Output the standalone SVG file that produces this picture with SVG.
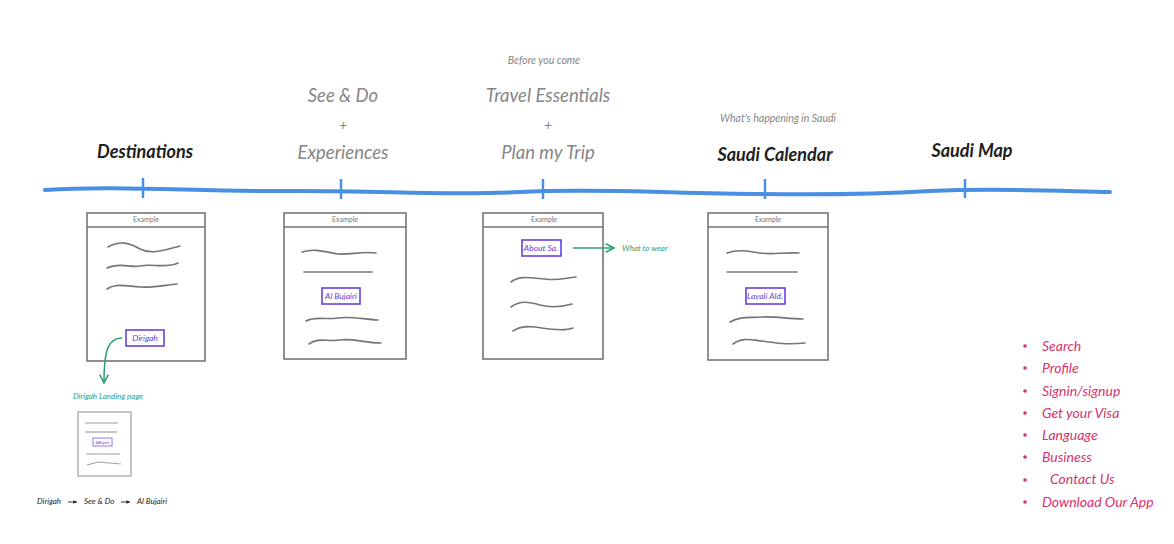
<svg xmlns="http://www.w3.org/2000/svg" width="1174" height="544" viewBox="0 0 1174 544">
<defs>
<style>
text{font-family:"Lato","Open Sans",sans-serif;font-style:italic}
.t{text-anchor:middle}
.blk{fill:#1e1e1e;font-size:18px;font-weight:bold}
.gry{fill:#868686;font-size:18.5px}
.sub{fill:#868686;font-size:10.5px}
.frame{fill:none;stroke:#757575;stroke-width:1.6}
.sq{fill:none;stroke:#757575;stroke-width:1.6;stroke-linecap:round}
.btn{fill:#fff;stroke:#6741d9;stroke-width:1.6}
.btxt{fill:#6741d9;font-size:8.5px;text-anchor:middle}
.ex{fill:#757575;font-size:7px;text-anchor:middle;font-style:normal}
.grn{fill:none;stroke:#2f9e78;stroke-width:1.5}
.gtxt{fill:#2f9e78;font-size:8px}
.pink{fill:#d6336c;font-size:14px}
.bul{fill:#d6336c}
.bc{fill:#1e1e1e;font-size:8px}
</style>
<marker id="ga" viewBox="0 0 10 10" refX="9" refY="5" markerWidth="7" markerHeight="7" orient="auto"><path d="M1 1 L9 5 L1 9" fill="none" stroke="#2f9e78" stroke-width="1.5"/></marker>
<marker id="ka" viewBox="0 0 10 10" refX="9" refY="5" markerWidth="5" markerHeight="5" orient="auto"><path d="M1 1 L9 5 L1 9 Z" fill="#1e1e1e"/></marker>
</defs>

<g id="timeline">
<path d="M45 190 C120 185 200 192 280 191 C380 190 440 196 520 192 C600 188 680 194 760 194 C830 195 880 194 930 191 C1000 188 1060 191 1110 192" fill="none" stroke="#4a90e2" stroke-width="4" stroke-linecap="round"/>
<g stroke="#4a90e2" stroke-width="2.5">
<line x1="143" y1="178" x2="143" y2="198"/>
<line x1="341" y1="179" x2="341" y2="199"/>
<line x1="543" y1="179" x2="543" y2="199"/>
<line x1="765" y1="179" x2="765" y2="199"/>
<line x1="965" y1="179" x2="965" y2="198"/>
</g>
</g>

<g id="headings">
<text class="t blk" x="145" y="158">Destinations</text>
<text class="t gry" x="343" y="102">See &amp; Do</text>
<text class="t gry" x="343" y="130" style="font-size:14px">+</text>
<text class="t gry" x="343" y="159">Experiences</text>
<text class="t sub" x="544" y="64">Before you come</text>
<text class="t gry" x="548" y="102">Travel Essentials</text>
<text class="t gry" x="548" y="130" style="font-size:14px">+</text>
<text class="t gry" x="548" y="159">Plan my Trip</text>
<text class="t sub" x="778" y="122">What's happening in Saudi</text>
<text class="t blk" x="775" y="161">Saudi Calendar</text>
<text class="t blk" x="972" y="157">Saudi Map</text>
</g>

<g id="wf-destinations">
<rect class="frame" x="87" y="213" width="118" height="148"/>
<line class="frame" x1="87" y1="227" x2="205" y2="227"/>
<text class="ex" x="146" y="222">Example</text>
<path class="sq" d="M108 247 C120 240 130 243 140 249 C152 255 165 250 180 246"/>
<path class="sq" d="M107 268 C120 262 130 268 140 266 C152 263 165 269 178 263"/>
<path class="sq" d="M107 289 C115 283 125 286 140 287 C155 288 165 285 177 284"/>
<rect class="btn" x="126" y="330" width="38" height="16"/>
<text class="btxt" x="145" y="341">Dirigah</text>
</g>

<g id="wf-experiences">
<rect class="frame" x="284" y="213" width="122" height="146"/>
<line class="frame" x1="284" y1="227" x2="406" y2="227"/>
<text class="ex" x="345" y="222">Example</text>
<path class="sq" d="M302 252 C315 248 325 252 338 254 C350 255 362 251 376 253"/>
<path class="sq" d="M304 272 L372 272"/>
<rect class="btn" x="322" y="288" width="38" height="16"/>
<text class="btxt" x="341" y="299">Al Bujairi</text>
<path class="sq" d="M306 321 C315 316 325 320 338 318 C350 316 362 319 378 320"/>
<path class="sq" d="M309 344 C318 337 328 342 340 340 C352 338 365 343 381 343"/>
</g>

<g id="wf-plan">
<rect class="frame" x="483" y="213" width="120" height="146"/>
<line class="frame" x1="483" y1="227" x2="603" y2="227"/>
<text class="ex" x="544" y="222">Example</text>
<rect class="btn" x="522" y="240" width="39" height="16"/>
<text class="btxt" x="541" y="251">About Sa.</text>
<path class="sq" d="M511 282 C520 275 530 278 545 279 C558 281 565 278 576 277"/>
<path class="sq" d="M511 307 C520 300 530 302 540 305 C552 308 565 306 572 304"/>
<path class="sq" d="M513 331 C522 325 532 326 542 328 C555 330 565 331 573 328"/>
</g>

<g id="wf-calendar">
<rect class="frame" x="708" y="213" width="120" height="147"/>
<line class="frame" x1="708" y1="227" x2="828" y2="227"/>
<text class="ex" x="768" y="222">Example</text>
<path class="sq" d="M727 253 C738 249 748 251 760 253 C772 255 785 252 799 253"/>
<path class="sq" d="M727 272 L797 272"/>
<rect class="btn" x="746" y="288" width="39" height="16"/>
<text class="btxt" x="765" y="299">Layali Ald.</text>
<path class="sq" d="M730 322 C740 316 750 318 762 317 C775 316 788 319 803 319"/>
<path class="sq" d="M733 344 C742 337 752 340 762 341 C775 343 788 345 805 343"/>
</g>

<g id="wf-landing">
<text class="gtxt" x="108" y="399" text-anchor="middle">Dirigah Landing page</text>
<rect x="78" y="412" width="53" height="64" fill="none" stroke="#a0a0a0" stroke-width="1.2"/>
<g stroke="#a0a0a0" stroke-width="1.2" fill="none">
<line x1="85" y1="423" x2="118" y2="423"/>
<line x1="85" y1="432" x2="117" y2="432"/>
<line x1="86" y1="454" x2="120" y2="454"/>
<path d="M87 465 L98 462 L121 464"/>
</g>
<rect x="93" y="438" width="19" height="8" fill="#fff" stroke="#9775fa" stroke-width="1"/>
<text x="102.5" y="444" text-anchor="middle" style="font-size:4px;fill:#6741d9">AlBujairi</text>
</g>

<g id="breadcrumb">
<text class="bc" x="37" y="504">Dirigah</text>
<text class="bc" x="84" y="504">See &amp; Do</text>
<text class="bc" x="137" y="504">Al Bujairi</text>
</g>

<g id="side-menu">
<g class="bul">
<circle cx="1025" cy="346" r="1.8"/><circle cx="1025" cy="368" r="1.8"/><circle cx="1025" cy="391" r="1.8"/><circle cx="1025" cy="413" r="1.8"/>
<circle cx="1025" cy="435" r="1.8"/><circle cx="1025" cy="457" r="1.8"/><circle cx="1025" cy="480" r="1.8"/><circle cx="1025" cy="502" r="1.8"/>
</g>
<text class="pink" x="1042" y="351">Search</text>
<text class="pink" x="1042" y="373">Profile</text>
<text class="pink" x="1042" y="396">Signin/signup</text>
<text class="pink" x="1042" y="418">Get your Visa</text>
<text class="pink" x="1042" y="440">Language</text>
<text class="pink" x="1042" y="462">Business</text>
<text class="pink" x="1050" y="484">Contact Us</text>
<text class="pink" x="1042" y="507">Download Our App</text>
</g>

<g id="connectors">
<path class="grn" d="M122 338 C108 338 104 350 104 383" marker-end="url(#ga)"/>
<path class="grn" d="M573 248 L614 248" marker-end="url(#ga)"/>
<text class="gtxt" x="622" y="251">What to wear</text>
<line x1="68" y1="502" x2="77" y2="502" stroke="#1e1e1e" stroke-width="0.9" marker-end="url(#ka)"/>
<line x1="121" y1="502" x2="130" y2="502" stroke="#1e1e1e" stroke-width="0.9" marker-end="url(#ka)"/>
</g>
</svg>
